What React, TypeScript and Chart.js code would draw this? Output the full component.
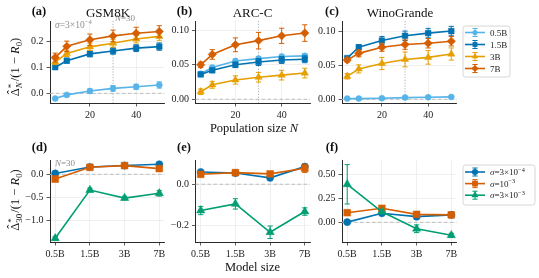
import React, { useEffect, useRef } from 'react';
import { Chart, registerables } from 'chart.js';
Chart.register(...registerables);

const W = 539, H = 278;
const FONT = "'Liberation Serif', 'Times New Roman', Times, serif";

// ---------- data ----------
const popN = [5, 10, 20, 30, 40, 50];
const popTicks = [20, 40];
const popTickLabels = ['20', '40'];
const modelIdx = [0, 1, 2, 3];
const modelSizes = ['0.5B', '1.5B', '3B', '7B'];

// (a) GSM8K, sigma = 3e-4
const gsm05 = [-0.020, -0.006, 0.009, 0.019, 0.025, 0.032];
const gsm05Err = [0.004, 0.005, 0.008, 0.011, 0.010, 0.012];
const gsm15 = [0.100, 0.125, 0.151, 0.162, 0.173, 0.179];
const gsm15Err = [0.005, 0.009, 0.011, 0.012, 0.013, 0.014];
const gsm3 = [0.120, 0.153, 0.178, 0.192, 0.208, 0.218];
const gsm3Err = [0.010, 0.012, 0.014, 0.015, 0.015, 0.015];
const gsm7 = [0.137, 0.180, 0.205, 0.220, 0.230, 0.237];
const gsm7Err = [0.017, 0.020, 0.022, 0.022, 0.023, 0.022];

// (b) ARC-C
const arc05 = [0.037, 0.046, 0.0555, 0.059, 0.062, 0.063];
const arc05Err = [0.002, 0.003, 0.003, 0.003, 0.003, 0.003];
const arc15 = [0.036, 0.042, 0.050, 0.054, 0.057, 0.058];
const arc15Err = [0.002, 0.003, 0.004, 0.005, 0.005, 0.005];
const arc3 = [0.011, 0.021, 0.028, 0.032, 0.035, 0.038];
const arc3Err = [0.004, 0.005, 0.006, 0.007, 0.007, 0.007];
const arc7 = [0.050, 0.065, 0.079, 0.085, 0.092, 0.096];
const arc7Err = [0.004, 0.007, 0.010, 0.012, 0.011, 0.012];

// (c) WinoGrande
const wino05 = [0.001, 0.001, 0.0015, 0.0025, 0.003, 0.0035];
const wino05Err = [0.001, 0.001, 0.001, 0.001, 0.001, 0.001];
const wino15 = [0.061, 0.077, 0.087, 0.094, 0.098, 0.101];
const wino15Err = [0.002, 0.004, 0.006, 0.007, 0.007, 0.007];
const wino3 = [0.034, 0.045, 0.053, 0.059, 0.062, 0.067];
const wino3Err = [0.004, 0.006, 0.009, 0.011, 0.010, 0.009];
const wino7 = [0.058, 0.068, 0.077, 0.081, 0.083, 0.086];
const wino7Err = [0.003, 0.005, 0.006, 0.007, 0.007, 0.007];

// (d) GSM8K at N=30 by sigma
const dS1 = [0.019, 0.160, 0.192, 0.220];
const dS1Err = [0.011, 0.012, 0.015, 0.022];
const dS2 = [-0.103, 0.153, 0.190, 0.125];
const dS2Err = [0.020, 0.020, 0.020, 0.030];
const dS3 = [-1.40, -0.344, -0.520, -0.416];
const dS3Err = [0.040, 0.040, 0.040, 0.060];

// (e) ARC-C at N=30
const eS1 = [0.059, 0.054, 0.031, 0.085];
const eS1Err = [0.005, 0.005, 0.007, 0.012];
const eS2 = [0.048, 0.056, 0.050, 0.077];
const eS2Err = [0.008, 0.008, 0.008, 0.020];
const eS3 = [-0.127, -0.095, -0.232, -0.132];
const eS3Err = [0.020, 0.025, 0.030, 0.018];

// (f) WinoGrande at N=30
const fS1 = [0.002, 0.094, 0.059, 0.077];
const fS1Err = [0.008, 0.012, 0.012, 0.010];
const fS2 = [0.100, 0.146, 0.083, 0.077];
const fS2Err = [0.010, 0.015, 0.015, 0.012];
const fS3 = [0.396, 0.110, -0.067, -0.135];
const fS3Err = [0.205, 0.020, 0.040, 0.020];

// ---------- styles ----------
const C05 = '#56B4E9', C15 = '#0072B2', C3 = '#E69F00', C7 = '#D55E00', CG = '#009E73';

type Part = { t: string; it?: boolean; sup?: boolean };
type Sty = { parts: Part[]; color: string; marker: string; r: number };

const topStyles: Sty[] = [
  { parts: [{ t: '0.5B' }], color: C05, marker: 'circle', r: 3 },
  { parts: [{ t: '1.5B' }], color: C15, marker: 'rect', r: 4 },
  { parts: [{ t: '3B' }], color: C3, marker: 'triangle', r: 4.2 },
  { parts: [{ t: '7B' }], color: C7, marker: 'rectRot', r: 4.2 },
];
const botStyles: Sty[] = [
  { parts: [{ t: 'σ', it: true }, { t: '=3×10' }, { t: '−4', sup: true }], color: C15, marker: 'circle', r: 3.6 },
  { parts: [{ t: 'σ', it: true }, { t: '=10' }, { t: '−3', sup: true }], color: C7, marker: 'rect', r: 4.8 },
  { parts: [{ t: 'σ', it: true }, { t: '=3×10' }, { t: '−3', sup: true }], color: CG, marker: 'triangle', r: 4.8 },
];

// ---------- drawing helpers ----------
function drawMarker(ctx: CanvasRenderingContext2D, style: string, x: number, y: number, r: number, color: string) {
  ctx.fillStyle = color;
  ctx.beginPath();
  if (style === 'circle') ctx.arc(x, y, r, 0, Math.PI * 2);
  else if (style === 'rect') { const s = r * Math.SQRT1_2; ctx.rect(x - s, y - s, 2 * s, 2 * s); }
  else if (style === 'triangle') {
    for (let k = 0; k < 3; k++) {
      const a = (k * 2 * Math.PI) / 3;
      const px = x + Math.sin(a) * r, py = y - Math.cos(a) * r;
      if (k === 0) ctx.moveTo(px, py); else ctx.lineTo(px, py);
    }
  } else if (style === 'rectRot') {
    ctx.moveTo(x, y - r); ctx.lineTo(x + r, y); ctx.lineTo(x, y + r); ctx.lineTo(x - r, y);
  }
  ctx.closePath();
  ctx.fill();
}

function drawRich(ctx: CanvasRenderingContext2D, x: number, y: number, parts: Part[], size: number, color: string) {
  let cx = x;
  ctx.fillStyle = color;
  ctx.textBaseline = 'alphabetic';
  ctx.textAlign = 'left';
  for (const p of parts) {
    const s = p.sup ? size * 0.7 : size;
    ctx.font = `${p.it ? 'italic ' : ''}${s}px ${FONT}`;
    ctx.fillText(p.t, cx, p.sup ? y - size * 0.4 : y);
    cx += ctx.measureText(p.t).width;
  }
}

const errorBars = {
  id: 'errorBars',
  beforeDatasetDraw(chart: any, args: any) {
    const ds = chart.data.datasets[args.index];
    const errs: number[] = ds.errors;
    if (!errs) return;
    const xs = chart.scales.x, ys = chart.scales.y, ctx = chart.ctx;
    const cap = 2.6;
    ctx.save();
    ctx.strokeStyle = ds.borderColor;
    ctx.lineWidth = 1;
    ds.data.forEach((p: any, i: number) => {
      const x = xs.getPixelForValue(p.x);
      const y1 = ys.getPixelForValue(p.y - errs[i]);
      const y2 = ys.getPixelForValue(p.y + errs[i]);
      ctx.beginPath();
      ctx.moveTo(x, y1); ctx.lineTo(x, y2);
      ctx.moveTo(x - cap, y1); ctx.lineTo(x + cap, y1);
      ctx.moveTo(x - cap, y2); ctx.lineTo(x + cap, y2);
      ctx.stroke();
    });
    ctx.restore();
  },
};

function refLines(vline?: number) {
  return {
    id: 'refLines',
    beforeDatasetsDraw(chart: any) {
      const { ctx, chartArea: a } = chart;
      const xs = chart.scales.x, ys = chart.scales.y;
      ctx.save();
      ctx.strokeStyle = '#bdbdbd';
      ctx.lineWidth = 1;
      ctx.setLineDash([3.5, 2.5]);
      const y0 = ys.getPixelForValue(0);
      ctx.beginPath(); ctx.moveTo(a.left, y0); ctx.lineTo(a.right, y0); ctx.stroke();
      if (vline !== undefined) {
        ctx.setLineDash([1.2, 1.6]);
        ctx.strokeStyle = '#b0b0b0';
        const x0 = xs.getPixelForValue(vline);
        ctx.beginPath(); ctx.moveTo(x0, a.top); ctx.lineTo(x0, a.bottom); ctx.stroke();
      }
      ctx.restore();
    },
  };
}

type Leg = { x: number; y: number; w: number; h: number; y0: number; dy: number; lx0: number; lx1: number; tx: number; fs: number; styles: Sty[] };

function legendBox(leg?: Leg) {
  return {
    id: 'legendBox',
    afterDraw(chart: any) {
      if (!leg) return;
      const ctx: CanvasRenderingContext2D = chart.ctx;
      ctx.save();
      const { x, y, w, h } = leg;
      const rr = 2.5;
      ctx.beginPath();
      ctx.moveTo(x + rr, y); ctx.lineTo(x + w - rr, y); ctx.arcTo(x + w, y, x + w, y + rr, rr);
      ctx.lineTo(x + w, y + h - rr); ctx.arcTo(x + w, y + h, x + w - rr, y + h, rr);
      ctx.lineTo(x + rr, y + h); ctx.arcTo(x, y + h, x, y + h - rr, rr);
      ctx.lineTo(x, y + rr); ctx.arcTo(x, y, x + rr, y, rr);
      ctx.closePath();
      ctx.fillStyle = 'rgba(255,255,255,0.85)';
      ctx.fill();
      ctx.strokeStyle = '#d6d6d6';
      ctx.lineWidth = 1;
      ctx.stroke();
      leg.styles.forEach((s, i) => {
        const ry = leg.y0 + i * leg.dy;
        const cx = (leg.lx0 + leg.lx1) / 2;
        ctx.strokeStyle = s.color;
        ctx.lineWidth = 1.6;
        ctx.beginPath(); ctx.moveTo(leg.lx0, ry); ctx.lineTo(leg.lx1, ry); ctx.stroke();
        ctx.lineWidth = 1;
        ctx.beginPath();
        ctx.moveTo(cx, ry - 4); ctx.lineTo(cx, ry + 4);
        ctx.moveTo(cx - 2.6, ry - 4); ctx.lineTo(cx + 2.6, ry - 4);
        ctx.moveTo(cx - 2.6, ry + 4); ctx.lineTo(cx + 2.6, ry + 4);
        ctx.stroke();
        drawMarker(ctx, s.marker, cx, ry, s.r * 0.85, s.color);
        drawRich(ctx, leg.tx, ry + 3.2, s.parts, leg.fs, '#222');
      });
      ctx.restore();
    },
  };
}

type PanelDef = {
  rect: [number, number, number, number];
  x: [number, number]; xTicks: number[]; xLabels: string[]; xs: number[];
  y: [number, number]; yTicks: number[]; yLabels: string[];
  ys: number[][]; errs: number[][]; styles: Sty[]; vline?: number; legend?: Leg;
};

const COLS: [number, number][] = [[50, 164.5], [195.5, 310], [342, 456.5]];
const TOP: [number, number] = [21, 103];
const BOT: [number, number] = [160, 242];

const panels: PanelDef[] = [
  { rect: [COLS[0][0], TOP[0], COLS[0][1], TOP[1]], x: [2.75, 52.25], xTicks: popTicks, xLabels: popTickLabels, xs: popN,
    y: [-0.037, 0.277], yTicks: [0, 0.1, 0.2], yLabels: ['0.0', '0.1', '0.2'],
    ys: [gsm05, gsm15, gsm3, gsm7], errs: [gsm05Err, gsm15Err, gsm3Err, gsm7Err], styles: topStyles, vline: 30 },
  { rect: [COLS[1][0], TOP[0], COLS[1][1], TOP[1]], x: [2.75, 52.25], xTicks: popTicks, xLabels: popTickLabels, xs: popN,
    y: [-0.0054, 0.1135], yTicks: [0, 0.05, 0.1], yLabels: ['0.00', '0.05', '0.10'],
    ys: [arc05, arc15, arc3, arc7], errs: [arc05Err, arc15Err, arc3Err, arc7Err], styles: topStyles, vline: 30 },
  { rect: [COLS[2][0], TOP[0], COLS[2][1], TOP[1]], x: [2.75, 52.25], xTicks: popTicks, xLabels: popTickLabels, xs: popN,
    y: [-0.0055, 0.1159], yTicks: [0, 0.05, 0.1], yLabels: ['0.00', '0.05', '0.10'],
    ys: [wino05, wino15, wino3, wino7], errs: [wino05Err, wino15Err, wino3Err, wino7Err], styles: topStyles, vline: 30,
    legend: { x: 463, y: 26, w: 47, h: 51, y0: 32.5, dy: 12, lx0: 465, lx1: 485, tx: 490, fs: 9, styles: topStyles } },
  { rect: [COLS[0][0], BOT[0], COLS[0][1], BOT[1]], x: [-0.15, 3.15], xTicks: modelIdx, xLabels: modelSizes, xs: modelIdx,
    y: [-1.481, 0.313], yTicks: [-1, -0.5, 0], yLabels: ['−1.0', '−0.5', '0.0'],
    ys: [dS1, dS2, dS3], errs: [dS1Err, dS2Err, dS3Err], styles: botStyles },
  { rect: [COLS[1][0], BOT[0], COLS[1][1], BOT[1]], x: [-0.15, 3.15], xTicks: modelIdx, xLabels: modelSizes, xs: modelIdx,
    y: [-0.279, 0.117], yTicks: [-0.2, 0], yLabels: ['−0.2', '0.0'],
    ys: [eS1, eS2, eS3], errs: [eS1Err, eS2Err, eS3Err], styles: botStyles },
  { rect: [COLS[2][0], BOT[0], COLS[2][1], BOT[1]], x: [-0.15, 3.15], xTicks: modelIdx, xLabels: modelSizes, xs: modelIdx,
    y: [-0.205, 0.649], yTicks: [0, 0.25, 0.5], yLabels: ['0.00', '0.25', '0.50'],
    ys: [fS1, fS2, fS3], errs: [fS1Err, fS2Err, fS3Err], styles: botStyles,
    legend: { x: 463, y: 165, w: 72, h: 40, y0: 172, dy: 11.6, lx0: 465, lx1: 485, tx: 490, fs: 9, styles: botStyles } },
];

function buildConfig(p: PanelDef): any {
  const [L, T, R, B] = p.rect;
  const YW = 30, XH = 22;
  const tickFont = { family: FONT, size: 10 };
  const grid = { color: '#ebebeb', lineWidth: 0.8, drawTicks: true, tickLength: 3.5, tickColor: '#333', tickWidth: 0.8 };
  const border = { display: true, color: '#2a2a2a', width: 1 };
  return {
    type: 'line',
    data: {
      datasets: p.ys.map((ys, i) => {
        const s = p.styles[i];
        return {
          data: p.xs.map((x, j) => ({ x, y: ys[j] })),
          errors: p.errs[i],
          borderColor: s.color, backgroundColor: s.color,
          pointBackgroundColor: s.color, pointBorderColor: s.color, pointBorderWidth: 0.5,
          pointStyle: s.marker, pointRadius: s.r, pointHoverRadius: s.r,
          borderWidth: 1.6, tension: 0, fill: false, order: -i,
        };
      }),
    },
    options: {
      responsive: false, animation: false, events: [],
      layout: { padding: { left: L - YW, right: W - R, top: T, bottom: H - B - XH } },
      plugins: { legend: { display: false }, tooltip: { enabled: false }, title: { display: false } },
      scales: {
        x: {
          type: 'linear', min: p.x[0], max: p.x[1], grid, border,
          ticks: { font: tickFont, color: '#222', padding: 2.5, maxRotation: 0, autoSkip: false, callback: (_v: any, i: number) => p.xLabels[i] },
          afterBuildTicks: (s: any) => { s.ticks = p.xTicks.map((v) => ({ value: v })); },
          afterFit: (s: any) => { s.height = XH; },
        },
        y: {
          type: 'linear', min: p.y[0], max: p.y[1], grid, border,
          ticks: { font: tickFont, color: '#222', padding: 3, autoSkip: false, callback: (_v: any, i: number) => p.yLabels[i] },
          afterBuildTicks: (s: any) => { s.ticks = p.yTicks.map((v) => ({ value: v })); },
          afterFit: (s: any) => { s.width = YW; },
        },
      },
    },
    plugins: [errorBars, refLines(p.vline), legendBox(p.legend)],
  };
}

function PanelCanvas({ p }: { p: PanelDef }) {
  const ref = useRef<HTMLCanvasElement>(null);
  useEffect(() => {
    const ch = new Chart(ref.current as HTMLCanvasElement, buildConfig(p));
    return () => ch.destroy();
  }, []);
  return <canvas ref={ref} width={W} height={H} style={{ position: 'absolute', left: 0, top: 0, width: W, height: H }} />;
}

function Label({ x, y, size = 12, align = 'center', rotate = false, style = {}, children }: any) {
  const tx = align === 'center' ? '-50%' : align === 'left' ? '0%' : '-100%';
  return (
    <div style={{ position: 'absolute', left: x, top: y, transform: `translate(${tx}, -50%)${rotate ? ' rotate(-90deg)' : ''}`,
      fontFamily: FONT, fontSize: size, lineHeight: 1, whiteSpace: 'nowrap', color: '#111', ...style }}>
      {children}
    </div>
  );
}

function Hat({ children }: any) {
  return (
    <span style={{ position: 'relative', display: 'inline-block' }}>
      {children}
      <span style={{ position: 'absolute', left: 0, right: 0, top: '-0.24em', textAlign: 'center' }}>ˆ</span>
    </span>
  );
}

function SupSub({ sub }: any) {
  return (
    <span style={{ display: 'inline-block', verticalAlign: '-0.3em', lineHeight: 0.85, fontSize: '0.72em', marginRight: 1 }}>
      <span style={{ display: 'block' }}>*</span>
      <span style={{ display: 'block' }}>{sub}</span>
    </span>
  );
}

function YLabel({ x, y, sub }: any) {
  return (
    <Label x={x} y={y} size={12.5} rotate>
      <Hat>Δ</Hat><SupSub sub={sub} />/(1 − <i>R</i><sub style={{ fontSize: '0.7em', verticalAlign: '-0.25em' }}>0</sub>)
    </Label>
  );
}

export default function App() {
  useEffect(() => { document.body.style.margin = '0'; }, []);
  const bold = { fontWeight: 'bold' };
  const gray = { color: '#8f8f8f' };
  return (
    <div style={{ position: 'fixed', left: 0, top: 0, width: W, height: H, background: '#fff', overflow: 'hidden' }}>
      {panels.map((p, i) => <PanelCanvas key={i} p={p} />)}
      <Label x={39} y={11} size={12.5} style={bold}>(a)</Label>
      <Label x={184.5} y={11} size={12.5} style={bold}>(b)</Label>
      <Label x={332} y={11} size={12.5} style={bold}>(c)</Label>
      <Label x={39.5} y={147} size={12.5} style={bold}>(d)</Label>
      <Label x={184} y={147} size={12.5} style={bold}>(e)</Label>
      <Label x={332} y={147} size={12.5} style={bold}>(f)</Label>
      <Label x={108} y={11.5} size={13}>GSM8K</Label>
      <Label x={252.5} y={11.5} size={13}>ARC-C</Label>
      <Label x={400} y={11.5} size={13}>WinoGrande</Label>
      <Label x={254} y={127.5} size={12.5}>Population size <i>N</i></Label>
      <Label x={252.5} y={266.5} size={12.5}>Model size</Label>
      <YLabel x={16} y={66.5} sub={<i>N</i>} />
      <YLabel x={16} y={199.5} sub={<span>30</span>} />
      <Label x={55} y={24.5} size={9.5} align="left" style={gray}><i>σ</i>=3×10<sup style={{ fontSize: '0.7em' }}>−4</sup></Label>
      <Label x={115} y={17.5} size={9} align="left" style={gray}><i>N</i>=30</Label>
      <Label x={55} y={163} size={9} align="left" style={gray}><i>N</i>=30</Label>
    </div>
  );
}
